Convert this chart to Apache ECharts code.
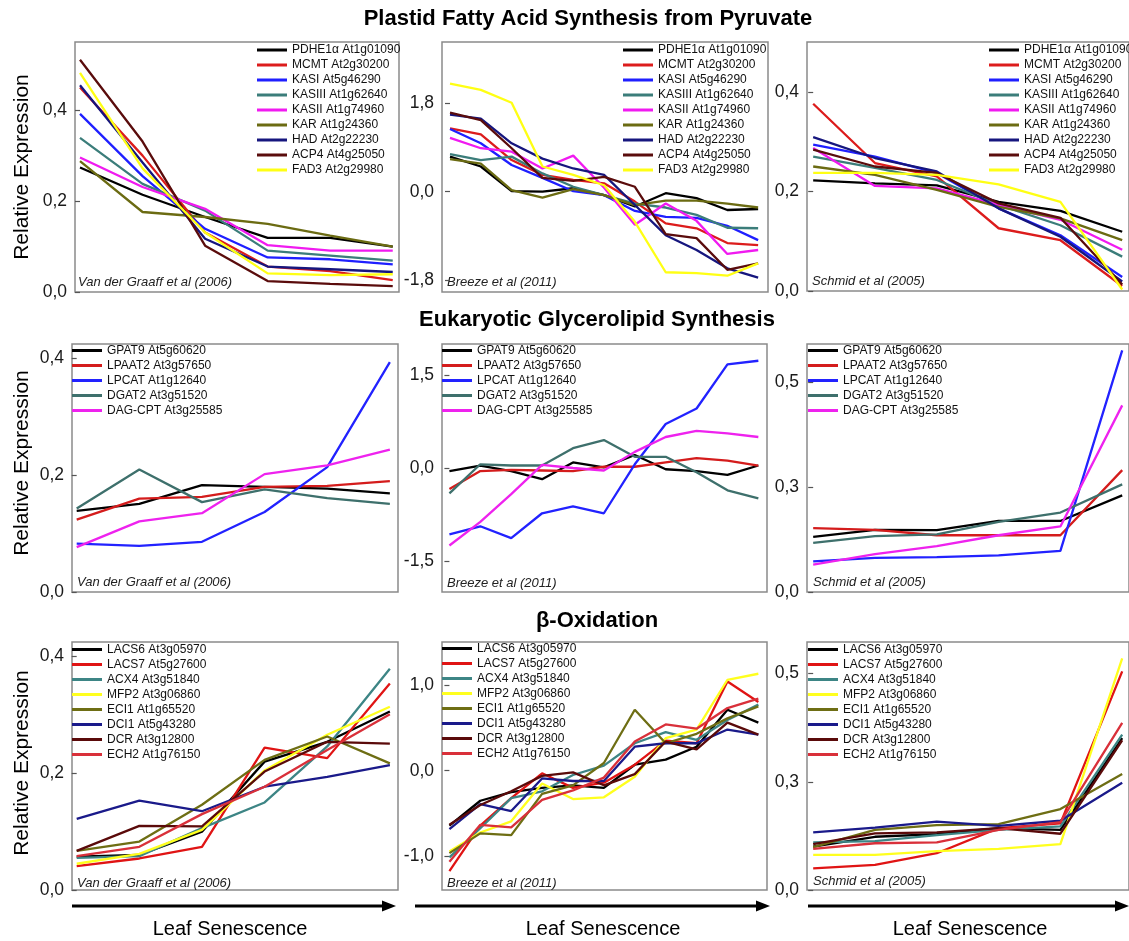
<!DOCTYPE html>
<html><head><meta charset="utf-8">
<script src="https://cdn.jsdelivr.net/npm/echarts@6/dist/echarts.min.js"></script>
<style>html,body{margin:0;padding:0;background:#fff}#c{width:1129px;height:941px}</style>
</head><body><div id="c"></div><script>
// ---------- gene names ----------
const faGenes = ['PDHE1\u03b1 At1g01090','MCMT At2g30200','KASI At5g46290','KASIII At1g62640','KASII At1g74960','KAR At1g24360','HAD At2g22230','ACP4 At4g25050','FAD3 At2g29980'];
const glGenes = ['GPAT9 At5g60620','LPAAT2 At3g57650','LPCAT At1g12640','DGAT2 At3g51520','DAG-CPT At3g25585'];
const boGenes = ['LACS6 At3g05970','LACS7 At5g27600','ACX4 At3g51840','MFP2 At3g06860','ECI1 At1g65520','DCI1 At5g43280','DCR At3g12800','ECH2 At1g76150'];

// ---------- values (rows follow gene order) ----------
const faVdg = [
  [0.274, 0.214, 0.165, 0.119, 0.119, 0.100],
  [0.450, 0.300, 0.131, 0.056, 0.046, 0.026],
  [0.392, 0.255, 0.139, 0.076, 0.072, 0.061],
  [0.339, 0.238, 0.179, 0.091, 0.080, 0.069],
  [0.296, 0.231, 0.183, 0.103, 0.091, 0.091],
  [0.288, 0.176, 0.165, 0.150, 0.124, 0.100],
  [0.455, 0.285, 0.117, 0.056, 0.050, 0.044],
  [0.511, 0.331, 0.102, 0.024, 0.018, 0.013],
  [0.482, 0.272, 0.131, 0.041, 0.037, 0.039]
];
const faBreeze = [
  [0.71, 0.51, 0.01, 0.00, 0.07, -0.07, -0.30, -0.03, -0.13, -0.37, -0.35],
  [1.28, 1.16, 0.64, 0.34, 0.24, 0.17, -0.20, -0.64, -0.74, -1.04, -1.08],
  [1.27, 0.98, 0.54, 0.28, 0.01, -0.07, -0.39, -0.51, -0.53, -0.69, -0.98],
  [0.76, 0.64, 0.71, 0.37, 0.10, -0.07, -0.24, -0.32, -0.47, -0.73, -0.74],
  [1.09, 0.88, 0.81, 0.47, 0.73, 0.08, -0.67, -0.24, -0.59, -1.26, -1.18],
  [0.66, 0.57, 0.03, -0.12, 0.05, -0.07, -0.27, -0.18, -0.18, -0.24, -0.32],
  [1.56, 1.48, 0.98, 0.67, 0.47, 0.34, -0.27, -0.88, -1.18, -1.55, -1.74],
  [1.60, 1.45, 0.88, 0.28, 0.22, 0.30, 0.10, -0.86, -0.94, -1.58, -1.45],
  [2.19, 2.06, 1.80, 0.51, 0.34, 0.13, -0.61, -1.63, -1.65, -1.70, -1.45]
];
const faSchmid = [
  [0.222, 0.216, 0.212, 0.179, 0.161, 0.119],
  [0.376, 0.257, 0.230, 0.126, 0.102, 0.010],
  [0.294, 0.270, 0.237, 0.166, 0.112, 0.028],
  [0.270, 0.247, 0.223, 0.173, 0.132, 0.069],
  [0.287, 0.211, 0.206, 0.173, 0.143, 0.083],
  [0.250, 0.233, 0.203, 0.169, 0.146, 0.102],
  [0.309, 0.267, 0.240, 0.166, 0.109, 0.019],
  [0.284, 0.250, 0.237, 0.176, 0.147, 0.013],
  [0.237, 0.237, 0.233, 0.214, 0.179, 0.003]
];
const glVdg = [
  [0.139, 0.151, 0.183, 0.180, 0.177, 0.169],
  [0.124, 0.160, 0.163, 0.180, 0.182, 0.190],
  [0.083, 0.079, 0.086, 0.137, 0.214, 0.394],
  [0.143, 0.210, 0.154, 0.176, 0.161, 0.151],
  [0.077, 0.121, 0.135, 0.202, 0.217, 0.244]
];
const glBreeze = [
  [-0.05, 0.04, -0.05, -0.18, 0.09, 0.01, 0.21, -0.02, -0.05, -0.11, 0.04],
  [-0.34, -0.05, -0.03, -0.04, -0.05, 0.02, 0.02, 0.09, 0.16, 0.12, 0.04],
  [-1.07, -0.94, -1.13, -0.73, -0.62, -0.73, 0.06, 0.71, 0.96, 1.67, 1.73],
  [-0.41, 0.06, 0.04, 0.04, 0.32, 0.45, 0.18, 0.18, -0.07, -0.36, -0.49],
  [-1.25, -0.87, -0.42, 0.05, 0.00, -0.04, 0.26, 0.50, 0.60, 0.56, 0.50]
];
const glSchmid = [
  [0.131, 0.148, 0.147, 0.169, 0.169, 0.230],
  [0.152, 0.148, 0.135, 0.135, 0.135, 0.290],
  [0.073, 0.081, 0.083, 0.087, 0.098, 0.575],
  [0.117, 0.133, 0.137, 0.167, 0.189, 0.256],
  [0.065, 0.090, 0.109, 0.135, 0.156, 0.444]
];
const boVdg = [
  [0.057, 0.060, 0.100, 0.220, 0.254, 0.306],
  [0.041, 0.054, 0.074, 0.244, 0.226, 0.354],
  [0.055, 0.058, 0.106, 0.150, 0.246, 0.379],
  [0.045, 0.062, 0.103, 0.205, 0.266, 0.314],
  [0.067, 0.083, 0.146, 0.223, 0.263, 0.217],
  [0.122, 0.153, 0.135, 0.177, 0.194, 0.214],
  [0.067, 0.110, 0.109, 0.203, 0.254, 0.251],
  [0.058, 0.074, 0.130, 0.177, 0.240, 0.301]
];
const boBreeze = [
  [-0.64, -0.35, -0.25, -0.20, -0.17, -0.20, 0.07, 0.13, 0.28, 0.71, 0.56],
  [-1.17, -0.64, -0.32, -0.03, -0.20, -0.14, 0.07, 0.35, 0.32, 1.04, 0.80],
  [-1.01, -0.67, -0.32, -0.24, -0.05, 0.06, 0.32, 0.45, 0.36, 0.59, 0.77],
  [-0.94, -0.72, -0.59, -0.15, -0.33, -0.31, -0.07, 0.38, 0.48, 1.06, 1.13],
  [-0.96, -0.73, -0.75, -0.27, -0.17, 0.09, 0.71, 0.32, 0.43, 0.61, 0.75],
  [-0.68, -0.39, -0.47, -0.09, -0.12, -0.12, 0.28, 0.32, 0.32, 0.48, 0.42],
  [-0.63, -0.40, -0.24, -0.06, -0.02, -0.17, -0.04, 0.34, 0.25, 0.56, 0.42],
  [-1.06, -0.63, -0.66, -0.34, -0.23, -0.08, 0.34, 0.54, 0.49, 0.73, 0.84]
];
const boSchmid = [
  [0.100, 0.123, 0.129, 0.143, 0.139, 0.351],
  [0.050, 0.058, 0.085, 0.143, 0.154, 0.505],
  [0.110, 0.113, 0.127, 0.139, 0.147, 0.359],
  [0.081, 0.081, 0.090, 0.095, 0.106, 0.535],
  [0.099, 0.139, 0.150, 0.152, 0.187, 0.268],
  [0.133, 0.144, 0.158, 0.148, 0.160, 0.248],
  [0.106, 0.131, 0.133, 0.143, 0.130, 0.346],
  [0.095, 0.108, 0.110, 0.139, 0.157, 0.386]
];

// ---------- tick values ----------
const ticksR1C1 = [0, 0.2, 0.4];
const ticksR1C2 = [-1.8, 0, 1.8];
const ticksR1C3 = [0, 0.2, 0.4];
const ticksR2C1 = [0, 0.2, 0.4];
const ticksR2C2 = [-1.5, 0, 1.5];
const ticksR2C3 = [0, 0.25, 0.5];
const ticksR3C1 = [0, 0.2, 0.4];
const ticksR3C2 = [-1, 0, 1];
const ticksR3C3 = [0, 0.25, 0.5];

// ---------- text ----------
const sectionTitles = ['Plastid Fatty Acid Synthesis from Pyruvate', 'Eukaryotic Glycerolipid Synthesis', '\u03b2-Oxidation'];
const yTitle = 'Relative Expression';
const xTitle = 'Leaf Senescence';
const sources = ['Van der Graaff et al (2006)', 'Breeze et al (2011)', 'Schmid et al (2005)'];

// ---------- styles ----------
const faColors = ['#000000','#dc1c1c','#1f1fff','#3b7d7a','#f01af0','#6b6b12','#16167e','#5a0c0c','#ffff14'];
const glColors = ['#000000','#d41c1c','#2222ff','#3e706c','#ee22ee'];
const boColors = ['#000000','#e01414','#3d8585','#ffff1e','#6e6e14','#1a1a8a','#5a0a0a','#d9303a'];
const FONT = '"Liberation Sans", Arial, Helvetica, sans-serif';

const panels = [
  {genes: faGenes, colors: faColors, data: faVdg,    ticks: ticksR1C1, y: [0, 0.55],    x: [-0.08, 5.1],  grid: [75, 42, 324, 250],  legend: [257, 42.5], src: 0, note: [78, 282]},
  {genes: faGenes, colors: faColors, data: faBreeze, ticks: ticksR1C2, y: [-2.03, 3.03], x: [-0.26, 10.32], grid: [442, 42, 326, 250], legend: [623, 42.5], src: 1, note: [447, 282]},
  {genes: faGenes, colors: faColors, data: faSchmid, ticks: ticksR1C3, y: [0, 0.5],     x: [-0.1, 5.11],  grid: [807, 42, 325, 249], legend: [989, 42.5], src: 2, note: [812, 281]},
  {genes: glGenes, colors: glColors, data: glVdg,    ticks: ticksR2C1, y: [0, 0.425],   x: [-0.075, 5.13],grid: [72, 344, 326, 248], legend: [72, 343],  src: 0, note: [77, 582]},
  {genes: glGenes, colors: glColors, data: glBreeze, ticks: ticksR2C2, y: [-2, 2],      x: [-0.24, 10.28],grid: [442, 344, 325, 248],legend: [442, 343], src: 1, note: [447, 583]},
  {genes: glGenes, colors: glColors, data: glSchmid, ticks: ticksR2C3, y: [0, 0.59],    x: [-0.1, 5.11],  grid: [807, 344, 325, 248],legend: [808, 343], src: 2, note: [813, 582]},
  {genes: boGenes, colors: boColors, data: boVdg,    ticks: ticksR3C1, y: [0, 0.425],   x: [-0.075, 5.13],grid: [72, 642, 326, 248], legend: [72, 642],  src: 0, note: [77, 883]},
  {genes: boGenes, colors: boColors, data: boBreeze, ticks: ticksR3C2, y: [-1.39, 1.5], x: [-0.24, 10.28],grid: [442, 642, 325, 248],legend: [442, 641], src: 1, note: [447, 883]},
  {genes: boGenes, colors: boColors, data: boSchmid, ticks: ticksR3C3, y: [0, 0.573],   x: [-0.1, 5.11],  grid: [807, 642, 325, 248],legend: [808, 642], src: 2, note: [813, 881]}
];

const fmt = v => v.toFixed(1).replace('.', ',');
const grid = [], xAxis = [], yAxis = [], series = [], legend = [], graphic = [];
panels.forEach((p, i) => {
  grid.push({left: p.grid[0], top: p.grid[1], width: p.grid[2], height: p.grid[3], show: true,
    borderColor: '#8a8a8a', borderWidth: 1.5, backgroundColor: 'transparent'});
  xAxis.push({type: 'value', gridIndex: i, min: p.x[0], max: p.x[1], show: false});
  yAxis.push({type: 'value', gridIndex: i, min: p.y[0], max: p.y[1],
    axisLine: {show: false}, splitLine: {show: false},
    axisTick: {show: true, customValues: p.ticks, length: 5, lineStyle: {color: '#555', width: 1.2}},
    axisLabel: {customValues: p.ticks, formatter: fmt, fontSize: 17.5, color: '#1a1a1a', fontFamily: FONT, margin: 8}});
  p.genes.forEach((g, k) => {
    series.push({type: 'line', name: g, xAxisIndex: i, yAxisIndex: i, symbol: 'none', silent: true,
      color: p.colors[k], lineStyle: {width: 2.3, color: p.colors[k]},
      data: p.data[k].map((v, j) => [j, v])});
  });
  legend.push({data: p.genes, orient: 'vertical', left: p.legend[0], top: p.legend[1], padding: 0,
    icon: 'rect', itemWidth: 30, itemHeight: 3, itemGap: 0, selectedMode: false,
    textStyle: {fontSize: 12, color: '#111', fontFamily: FONT, lineHeight: 15}});
  graphic.push({type: 'text', x: p.note[0], y: p.note[1], silent: true,
    style: {text: sources[p.src], fontSize: 13, fontStyle: 'italic', fontFamily: FONT, fill: '#222',
      textAlign: 'left', textVerticalAlign: 'middle', align: 'left', verticalAlign: 'middle'}});
});

// section titles
[[588, 19], [597, 320], [597, 621]].forEach((pos, r) => {
  graphic.push({type: 'text', x: pos[0], y: pos[1], silent: true,
    style: {text: sectionTitles[r], fontSize: 22, fontWeight: 'bold', fontFamily: FONT, fill: '#000',
      textAlign: 'center', textVerticalAlign: 'middle', align: 'center', verticalAlign: 'middle'}});
});
// y titles
[167, 463, 763].forEach(cy => {
  graphic.push({type: 'text', x: 22, y: cy, rotation: Math.PI / 2, silent: true,
    style: {text: yTitle, fontSize: 21, fontFamily: FONT, fill: '#000',
      textAlign: 'center', textVerticalAlign: 'middle', align: 'center', verticalAlign: 'middle'}});
});
// arrows + x titles
[[72, 396, 230], [415, 770, 603], [808, 1129, 970]].forEach(a => {
  graphic.push({type: 'line', silent: true, shape: {x1: a[0], y1: 906, x2: a[1] - 8, y2: 906},
    style: {stroke: '#000', lineWidth: 3}});
  graphic.push({type: 'polygon', silent: true, shape: {points: [[a[1] - 14, 900.5], [a[1], 906], [a[1] - 14, 911.5]]},
    style: {fill: '#000'}});
  graphic.push({type: 'text', x: a[2], y: 929, silent: true,
    style: {text: xTitle, fontSize: 20, fontFamily: FONT, fill: '#000',
      textAlign: 'center', textVerticalAlign: 'middle', align: 'center', verticalAlign: 'middle'}});
});

const chart = echarts.init(document.getElementById('c'), null, {renderer: 'canvas'});
chart.setOption({animation: false, backgroundColor: '#fff', grid, xAxis, yAxis, series, legend, graphic});
</script></body></html>
